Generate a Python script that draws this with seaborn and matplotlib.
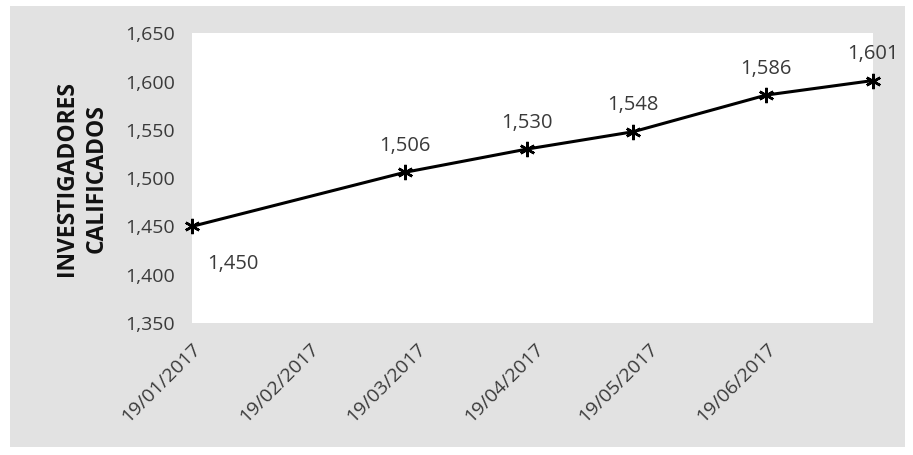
import pandas as pd
import matplotlib.pyplot as plt
import matplotlib.dates as mdates
from matplotlib.patches import Rectangle
import seaborn as sns

sns.set_style("white")
plt.rcParams['font.family'] = ['Open Sans', 'DejaVu Sans']

# Data (dates estimated from point positions)
fechas = ['2017-01-19', '2017-03-16', '2017-04-17', '2017-05-15', '2017-06-19', '2017-07-17']
investigadores = [1450, 1506, 1530, 1548, 1586, 1601]
y_ticks = [1350, 1400, 1450, 1500, 1550, 1600, 1650]

df = pd.DataFrame({'fecha': pd.to_datetime(fechas), 'valor': investigadores})

fig = plt.figure(figsize=(9.13, 4.55), dpi=100, facecolor='white')
fig.add_artist(Rectangle((0.011, 0.017), 0.98, 0.97, transform=fig.transFigure,
                         facecolor='#e2e2e2', edgecolor='none', zorder=-10))
ax = fig.add_axes([0.210, 0.290, 0.746, 0.637])
ax.set_zorder(1)
ax.set_facecolor('white')

sns.lineplot(data=df, x='fecha', y='valor', ax=ax, color='black', linewidth=2.2,
             marker=(6, 2, 0), markersize=11, markeredgewidth=1.8,
             markeredgecolor='black', clip_on=False)

# Data labels
for i, (d, v) in enumerate(zip(df['fecha'], df['valor'])):
    if i == 0:
        ax.annotate(f'{v:,}', (d, v), xytext=(11, -27), textcoords='offset points',
                    ha='left', va='center', fontsize=14.5, color='#3a3a3a')
    else:
        ax.annotate(f'{v:,}', (d, v), xytext=(0, 19), textcoords='offset points',
                    ha='center', va='center', fontsize=14.5, color='#3a3a3a')

ax.set_ylim(1350, 1650)
ax.set_yticks(y_ticks)
ax.set_yticklabels([f'{t:,}' for t in y_ticks])
ax.set_xlim(df['fecha'].iloc[0], df['fecha'].iloc[-1])
ax.xaxis.set_major_locator(mdates.MonthLocator(bymonthday=19))
ax.xaxis.set_major_formatter(mdates.DateFormatter('%d/%m/%Y'))

ax.tick_params(axis='both', length=0, labelsize=14, labelcolor='#3a3a3a')
ax.tick_params(axis='x', pad=12)
ax.tick_params(axis='y', pad=12)
for lbl in ax.get_xticklabels():
    lbl.set_rotation(45)
    lbl.set_ha('right')
    lbl.set_rotation_mode('anchor')

ax.set_xlabel('')
ax.set_ylabel('INVESTIGADORES\nCALIFICADOS', fontsize=16.5, fontweight='bold',
              color='#111111', labelpad=12, linespacing=1.3)

for s in ax.spines.values():
    s.set_visible(False)
ax.grid(False)

fig.savefig('out.png', dpi=100, facecolor=fig.get_facecolor())
